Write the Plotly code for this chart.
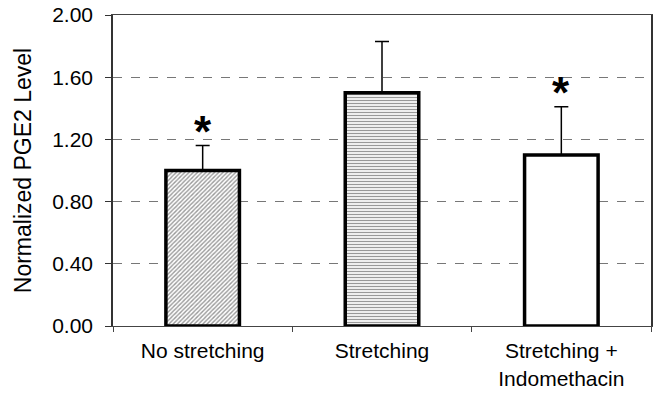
import plotly.graph_objects as go

categories = ["No stretching", "Stretching", "Stretching +<br>Indomethacin"]
values = [1.00, 1.50, 1.10]
errors_upper = [0.16, 0.33, 0.31]
significant = [True, False, True]
y_ticks = [0.0, 0.4, 0.8, 1.2, 1.6, 2.0]

fig = go.Figure()
fig.add_trace(go.Bar(
    x=categories, y=values,
    width=0.41,
    marker=dict(
        color="white",
        line=dict(color="black", width=3.5),
        pattern=dict(shape=["/", "-", ""], fgcolor="#333333", bgcolor="white",
                     size=3, solidity=[0.45, 0.45, 0.3], fillmode="overlay"),
    ),
    error_y=dict(type="data", symmetric=False, array=errors_upper,
                 arrayminus=[0] * len(values), color="black", thickness=1.5, width=7),
))

for c, v, e, s in zip(categories, values, errors_upper, significant):
    if s:
        fig.add_annotation(x=c, y=v + e, text="<b>*</b>", showarrow=False, yanchor="bottom",
                           yshift=-12, font=dict(size=44, color="black", family="Liberation Sans"))

fig.update_layout(
    width=654, height=402,
    margin=dict(l=113, r=3, t=15, b=76, autoexpand=False),
    paper_bgcolor="white", plot_bgcolor="white",
    showlegend=False,
    font=dict(family="Liberation Sans, Arial", size=21, color="black"),
)
fig.update_xaxes(
    showline=True, linecolor="#444444", linewidth=1.2, mirror=True,
    ticks="outside", tickson="boundaries", ticklen=5, tickcolor="#444444",
    showgrid=False, tickfont=dict(size=21), automargin=False, ticklabelstandoff=6,
)
fig.update_yaxes(
    range=[0, 2.0], tickvals=y_ticks, tickformat=".2f",
    showline=True, linecolor="#333333", linewidth=1.5, mirror=True,
    ticks="outside", ticklen=6, tickcolor="#333333",
    showgrid=True, gridcolor="#777777", griddash="dash", gridwidth=1,
    title=dict(text="Normalized PGE2 Level", font=dict(size=23), standoff=14),
    tickfont=dict(size=21), zeroline=False, automargin=False, ticklabelstandoff=8,
)

fig.write_html("out.html", config={"displayModeBar": False},
               post_script="document.body.style.margin='0';document.body.style.overflow='hidden';")
